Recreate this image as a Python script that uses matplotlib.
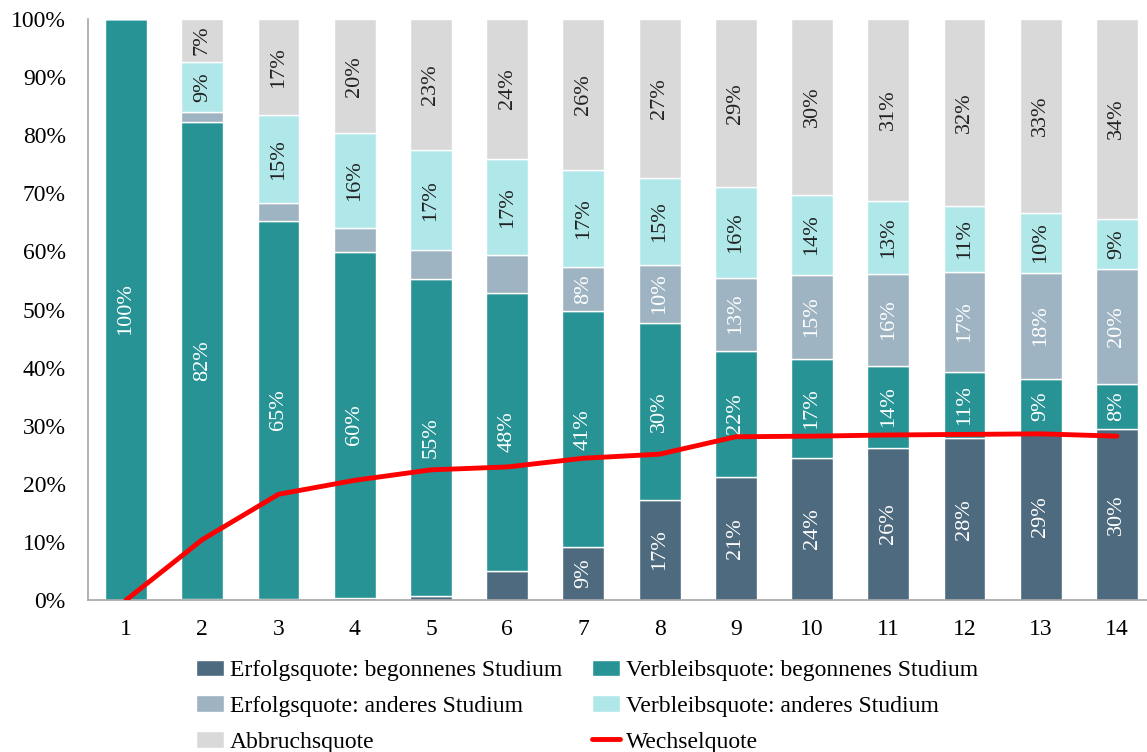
import numpy as np
import matplotlib.pyplot as plt

plt.rcParams['font.family'] = ['Liberation Serif', 'DejaVu Serif']

# Semester
semester = list(range(1, 15))

# Anteile in Prozent
erfolg_begonnen = [0.0, 0.2, 0.2, 0.3, 0.7, 5.0, 9.1, 17.2, 21.1, 24.4, 26.2, 27.8, 28.8, 29.5]
verbleib_begonnen = [100.0, 82.1, 65.0, 59.6, 54.6, 47.9, 40.6, 30.5, 21.8, 17.0, 14.1, 11.4, 9.2, 7.7]
erfolg_anderes = [0.0, 1.7, 3.1, 4.1, 4.9, 6.4, 7.7, 10.0, 12.6, 14.6, 15.8, 17.3, 18.3, 19.7]
verbleib_anderes = [0.0, 8.6, 15.1, 16.3, 17.2, 16.6, 16.6, 14.9, 15.5, 13.7, 12.6, 11.3, 10.3, 8.7]
abbruch = [0.0, 7.4, 16.6, 19.7, 22.6, 24.1, 26.0, 27.4, 29.0, 30.3, 31.3, 32.2, 33.4, 34.4]
wechsel = [0.0, 10.4, 18.2, 20.6, 22.4, 22.9, 24.4, 25.1, 28.1, 28.2, 28.4, 28.5, 28.6, 28.2]

reihen = [
    ('Erfolgsquote: begonnenes Studium', erfolg_begonnen, '#4E6A7E', 'white'),
    ('Verbleibsquote: begonnenes Studium', verbleib_begonnen, '#279395', 'white'),
    ('Erfolgsquote: anderes Studium', erfolg_anderes, '#9FB4C2', 'white'),
    ('Verbleibsquote: anderes Studium', verbleib_anderes, '#B0E8EA', '#222222'),
    ('Abbruchsquote', abbruch, '#D9D9D9', '#222222'),
]

fig = plt.figure(figsize=(11.47, 7.52), dpi=100)
ax = fig.add_axes([88 / 1147, 1 - 600 / 752, (1155 - 88) / 1147, 581 / 752])

x = np.array(semester)
unten = np.zeros(len(x))
balken = {}
for name, werte, farbe, textfarbe in reihen:
    werte = np.array(werte) / 100
    b = ax.bar(x, werte, 0.55, bottom=unten, color=farbe, edgecolor='white',
               linewidth=1, label=name)
    balken[name] = b
    for xi, u, w in zip(x, unten, werte):
        if w >= 0.065:
            ax.text(xi, u + w / 2, f'{w * 100:.0f}%', rotation=90, ha='center',
                    va='center', color=textfarbe, fontsize=16)
    unten += werte

linie, = ax.plot(x, np.array(wechsel) / 100, color='#FF0000', lw=3.5,
                 label='Wechselquote', solid_capstyle='round', zorder=5)

ax.set_xlim(0.5, 14.5)
ax.set_ylim(0, 1)
ax.set_yticks(np.arange(0, 1.01, 0.1))
ax.set_yticklabels([f'{v}%' for v in range(0, 101, 10)], fontsize=17)
ax.set_xticks(x)
ax.set_xticklabels([str(s) for s in semester], fontsize=17)
ax.tick_params(length=0)
ax.tick_params(axis='x', pad=14)
ax.tick_params(axis='y', pad=16)
for s in ['top', 'right']:
    ax.spines[s].set_visible(False)
for s in ['left', 'bottom']:
    ax.spines[s].set_color('#A6A6A6')
    ax.spines[s].set_linewidth(1.2)

handles = [balken['Erfolgsquote: begonnenes Studium'], balken['Erfolgsquote: anderes Studium'],
           balken['Abbruchsquote'], balken['Verbleibsquote: begonnenes Studium'],
           balken['Verbleibsquote: anderes Studium'], linie]
labels = [h.get_label() for h in handles]
fig.legend(handles, labels, ncol=2, loc='upper left', bbox_to_anchor=(184 / 1147, 1 - 648 / 752),
           frameon=False, fontsize=17, handlelength=1.2, handletextpad=0.25,
           columnspacing=1.25, labelspacing=0.6, borderpad=0)

fig.savefig('out.png', dpi=100)
